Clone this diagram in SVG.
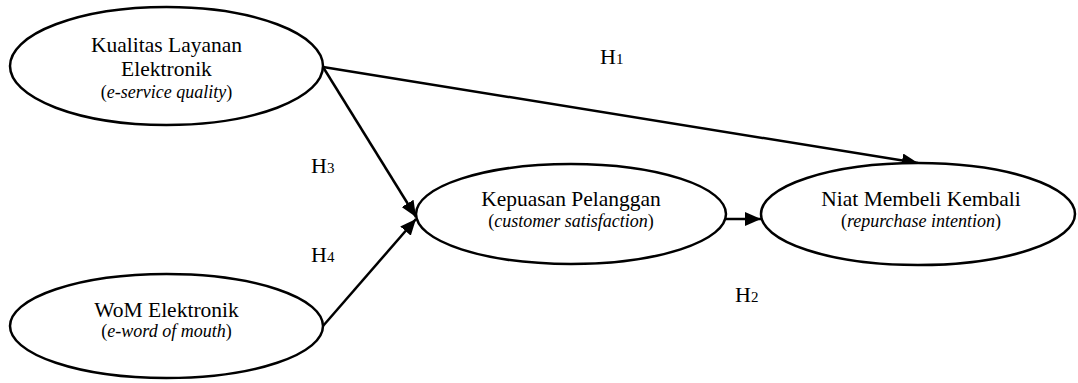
<svg xmlns="http://www.w3.org/2000/svg" width="1078" height="383" viewBox="0 0 1078 383">
<style>
.node{fill:#fff;stroke:#000;stroke-width:2.5}
.t{font-family:"Liberation Serif","Times New Roman",serif;font-size:21.5px;fill:#000;text-anchor:middle}
.s{font-family:"Liberation Serif","Times New Roman",serif;font-size:18px;fill:#000;text-anchor:middle}
.h{font-family:"Liberation Serif","Times New Roman",serif;font-size:22px;fill:#000}
.d{font-size:15px}
.c{fill:none;stroke:#000;stroke-width:2.5;marker-end:url(#ah)}
</style>
<defs>
<marker id="ah" markerUnits="userSpaceOnUse" viewBox="0 0 16 14" markerWidth="16" markerHeight="14" refX="16" refY="7" orient="auto">
<path d="M0,0 L16,7 L0,14 z" fill="#000"/>
</marker>
</defs>
<rect width="1078" height="383" fill="#fff"/>
<g id="connectors">
<line class="c" x1="323" y1="67" x2="918" y2="163"/>
<line class="c" x1="323" y1="67" x2="416" y2="217"/>
<line class="c" x1="323" y1="326" x2="416" y2="219"/>
<line class="c" x1="726" y1="219" x2="761" y2="219"/>
</g>
<g id="kualitas">
<ellipse class="node" cx="166.5" cy="66" rx="156.5" ry="59"/>
<text class="t" x="166.5" y="51.5">Kualitas Layanan</text>
<text class="t" x="166.5" y="76">Elektronik</text>
<text class="s" x="166.5" y="98">(<tspan font-style="italic">e-service quality</tspan>)</text>
</g>
<g id="wom">
<ellipse class="node" cx="166.5" cy="326" rx="156.5" ry="52"/>
<text class="t" x="166.5" y="317">WoM Elektronik</text>
<text class="s" x="166.5" y="337">(<tspan font-style="italic">e-word of mouth</tspan>)</text>
</g>
<g id="kepuasan">
<ellipse class="node" cx="571" cy="214" rx="155" ry="50"/>
<text class="t" x="571" y="206">Kepuasan Pelanggan</text>
<text class="s" x="571" y="227">(<tspan font-style="italic">customer satisfaction</tspan>)</text>
</g>
<g id="niat">
<ellipse class="node" cx="918" cy="214" rx="157" ry="51"/>
<text class="t" x="921" y="206">Niat Membeli Kembali</text>
<text class="s" x="921" y="227">(<tspan font-style="italic">repurchase intention</tspan>)</text>
</g>
<g id="labels">
<text class="h" x="600" y="64">H<tspan class="d">1</tspan></text>
<text class="h" x="735" y="302">H<tspan class="d">2</tspan></text>
<text class="h" x="311" y="173">H<tspan class="d">3</tspan></text>
<text class="h" x="311" y="262">H<tspan class="d">4</tspan></text>
</g>
</svg>
